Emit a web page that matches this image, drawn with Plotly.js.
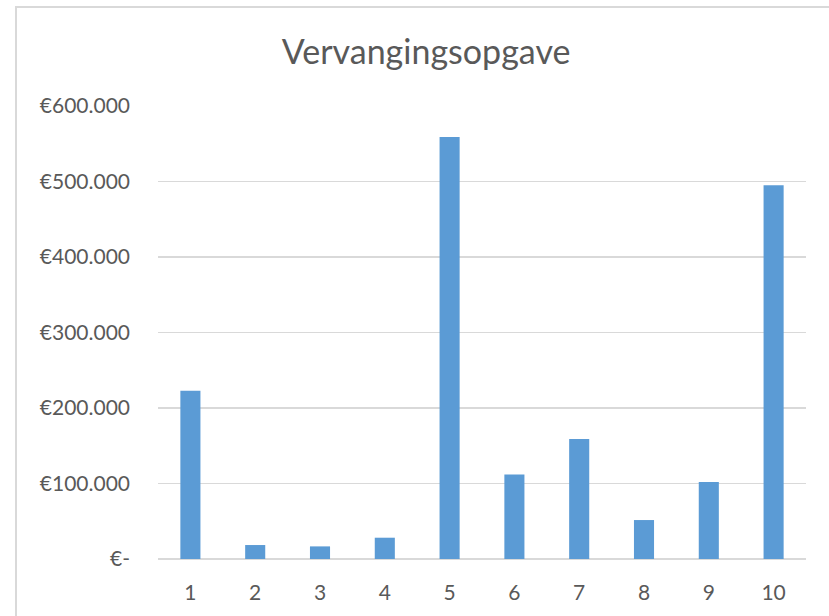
<!DOCTYPE html>
<html>
<head>
<meta charset="utf-8">
<script src="https://cdn.plot.ly/plotly-3.0.1.min.js"></script>
<style>
  html, body { margin: 0; padding: 0; background: #ffffff; }
  #wrap { position: relative; width: 829px; height: 616px; overflow: hidden; }
  #chart { width: 829px; height: 616px; }
  #frame { position: absolute; left: 15px; top: 6px; width: 900px; height: 700px;
           border: 2px solid #d9d9d9; box-sizing: border-box; pointer-events: none; }
</style>
</head>
<body>
<div id="wrap">
  <div id="chart"></div>
  <div id="frame"></div>
</div>
<script>
const categories = ["1", "2", "3", "4", "5", "6", "7", "8", "9", "10"];
const values = [223000, 18500, 16700, 28200, 559000, 112000, 159000, 51600, 102000, 495000];
const yTickVals = [0, 100000, 200000, 300000, 400000, 500000, 600000];
const yTickText = ["€-", "€100.000", "€200.000", "€300.000", "€400.000", "€500.000", "€600.000"];
const chartTitle = "Vervangingsopgave";

const textColor = "#595959";
const fontFamily = "Lato, 'Open Sans', 'Liberation Sans', sans-serif";

const data = [{
  type: "bar",
  x: categories,
  y: values,
  marker: { color: "#5b9bd5" },
  hoverinfo: "x+y"
}];

const layout = {
  width: 829,
  height: 616,
  margin: { l: 158, r: 23, t: 106, b: 57, pad: 0 },
  paper_bgcolor: "rgba(0,0,0,0)",
  plot_bgcolor: "#ffffff",
  bargap: 0.69,
  showlegend: false,
  title: {
    text: chartTitle,
    font: { family: fontFamily, size: 34, color: textColor },
    xref: "container", x: 0.514, xanchor: "center",
    yref: "container", y: 1 - 52 / 616, yanchor: "middle"
  },
  xaxis: {
    type: "category",
    showgrid: false,
    zeroline: false,
    showline: false,
    ticks: "",
    ticklabelstandoff: 19,
    tickfont: { family: fontFamily, size: 21, color: textColor }
  },
  yaxis: {
    range: [0, 600000],
    tickvals: yTickVals,
    ticktext: yTickText,
    showgrid: true,
    gridcolor: "#d9d9d9",
    gridwidth: 1.5,
    zeroline: true,
    zerolinecolor: "#d9d9d9",
    zerolinewidth: 1.5,
    showline: false,
    ticks: "",
    ticklabelstandoff: 27,
    tickfont: { family: fontFamily, size: 21, color: textColor }
  }
};

Plotly.newPlot("chart", data, layout, { displayModeBar: false, staticPlot: true });
</script>
</body>
</html>
